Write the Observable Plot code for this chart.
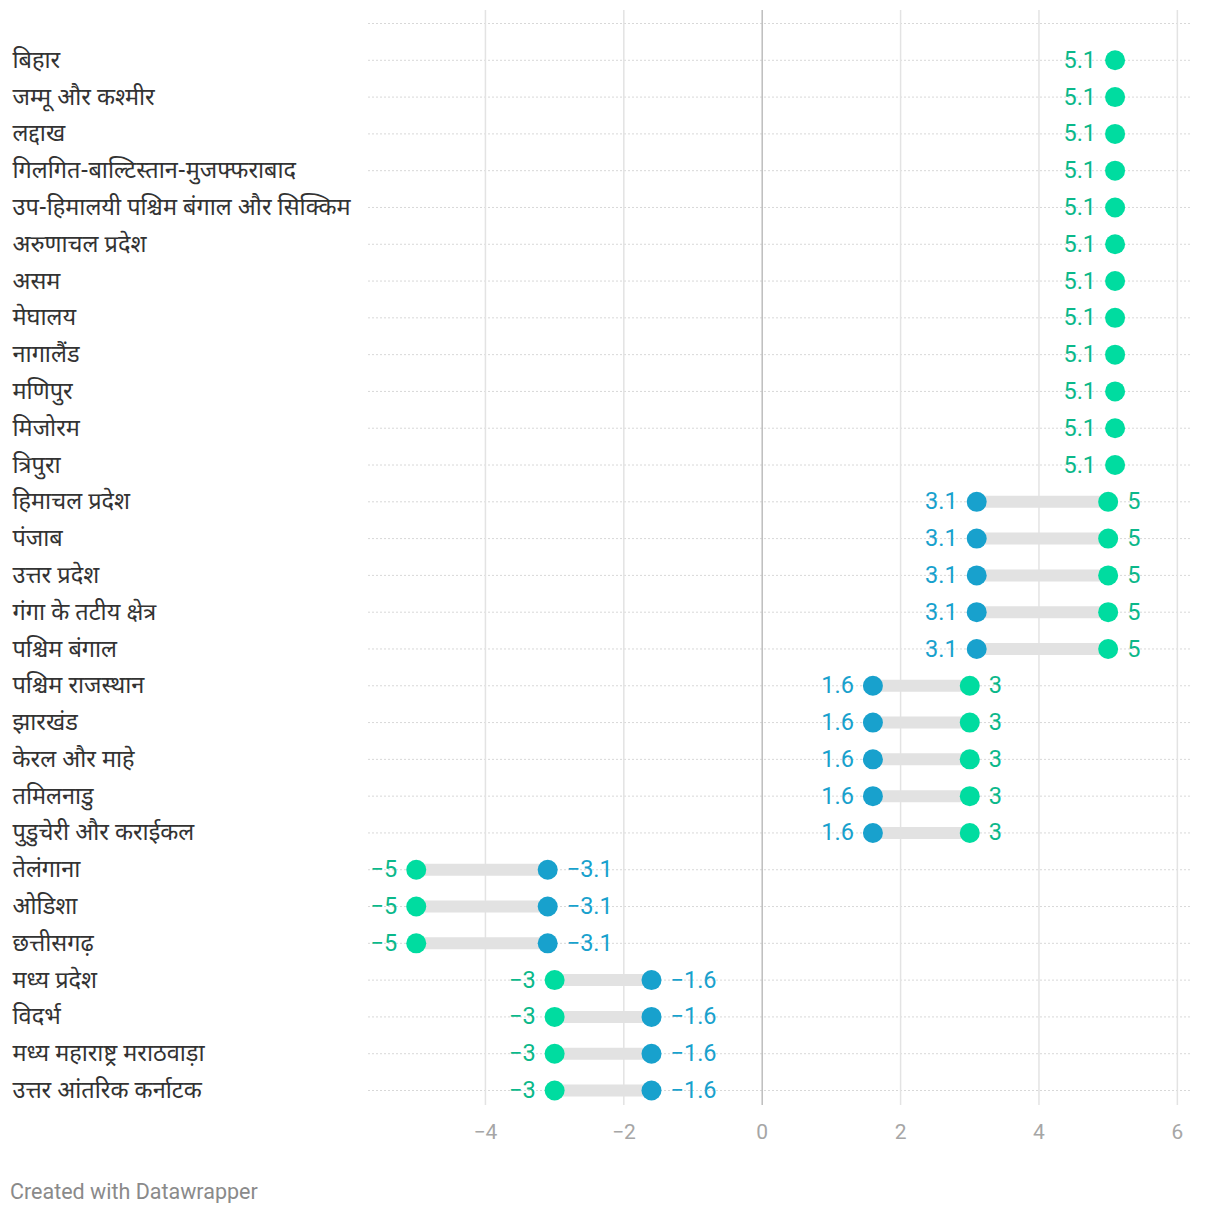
<!DOCTYPE html>
<html>
<head>
<meta charset="utf-8">
<script src="https://cdn.jsdelivr.net/npm/d3@7"></script>
<script src="https://cdn.jsdelivr.net/npm/@observablehq/plot@0.6"></script>
<style>
  body { margin: 0; background: #fff; font-family: Roboto, "Noto Sans", sans-serif; }
  #chart svg { display: block; }
  .credit { font-family: Roboto, sans-serif; font-size: 21.5px; color: #8a8a8a; padding: 21px 0 0 10px; line-height: 22px; }
</style>
</head>
<body>
<div id="chart"></div>
<div class="credit">Created with Datawrapper</div>
<script>
const regions = [
  "बिहार", "जम्मू और कश्मीर", "लद्दाख", "गिलगित-बाल्टिस्तान-मुजफ्फराबाद",
  "उप-हिमालयी पश्चिम बंगाल और सिक्किम", "अरुणाचल प्रदेश", "असम", "मेघालय",
  "नागालैंड", "मणिपुर", "मिजोरम", "त्रिपुरा",
  "हिमाचल प्रदेश", "पंजाब", "उत्तर प्रदेश", "गंगा के तटीय क्षेत्र", "पश्चिम बंगाल",
  "पश्चिम राजस्थान", "झारखंड", "केरल और माहे", "तमिलनाडु", "पुडुचेरी और कराईकल",
  "तेलंगाना", "ओडिशा", "छत्तीसगढ़",
  "मध्य प्रदेश", "विदर्भ", "मध्य महाराष्ट्र मराठवाड़ा", "उत्तर आंतरिक कर्नाटक"
];
const greenValues = [
  5.1, 5.1, 5.1, 5.1, 5.1, 5.1, 5.1, 5.1, 5.1, 5.1, 5.1, 5.1,
  5, 5, 5, 5, 5,
  3, 3, 3, 3, 3,
  -5, -5, -5,
  -3, -3, -3, -3
];
const blueValues = [
  null, null, null, null, null, null, null, null, null, null, null, null,
  3.1, 3.1, 3.1, 3.1, 3.1,
  1.6, 1.6, 1.6, 1.6, 1.6,
  -3.1, -3.1, -3.1,
  -1.6, -1.6, -1.6, -1.6
];
const xTicks = [-4, -2, 0, 2, 4, 6];

const GREEN = "#00dca0", GREEN_TEXT = "#0bb88a", BLUE = "#18a1cd";
const fmt = v => (v < 0 ? "\u2212" : "") + Math.abs(v);

const rows = regions.map((r, i) => ({ region: r, green: greenValues[i], blue: blueValues[i] }));
const pts = [];
rows.forEach(d => {
  const hasBlue = d.blue != null;
  const lo = hasBlue ? Math.min(d.green, d.blue) : d.green;
  pts.push({ region: d.region, v: d.green, series: "green", side: d.green === lo ? "left" : "right" });
  if (hasBlue) pts.push({ region: d.region, v: d.blue, series: "blue", side: d.blue === lo && d.blue !== d.green ? "left" : "right" });
});
const pairs = rows.filter(d => d.blue != null);

const yDomain = [" ", ...regions];
const font = "Roboto, sans-serif";

const chart = Plot.plot({
  width: 1220,
  height: 1160,
  marginLeft: 368,
  marginRight: 30,
  marginTop: 10,
  marginBottom: 55,
  style: { fontFamily: font, background: "#fff" },
  x: { domain: [-5.69, 6.19], ticks: xTicks, label: null },
  y: { type: "point", domain: yDomain, range: [23, 1090], padding: 0, round: false, label: null },
  marks: [
    Plot.ruleY(yDomain, { y: d => d, x1: -5.69, x2: 6.19, stroke: "#d8d8d8", strokeDasharray: "2,2", strokeWidth: 1 }),
    Plot.gridX(xTicks.filter(t => t !== 0), { stroke: "#e3e3e3", strokeOpacity: 1, strokeWidth: 1.5 }),
    Plot.ruleX([0], { stroke: "#bdbdbd", strokeWidth: 1.5 }),
    Plot.axisX(xTicks, { tickSize: 0, tickPadding: 19, fontSize: 21, fill: "#a6a6a6", tickFormat: fmt, fontFamily: font, label: null }),
    Plot.axisY({ tickSize: 0, tickPadding: 0, textAnchor: "start", dx: -356, fontSize: 23.5, fill: "#333", label: null,
      fontFamily: "'Noto Sans Devanagari', 'Noto Sans', sans-serif", tickFormat: d => d.trim() }),
    Plot.link(pairs, { x1: "green", x2: "blue", y1: "region", y2: "region", stroke: "#e2e2e2", strokeWidth: 12 }),
    Plot.dot(pts, { x: "v", y: "region", r: 10, fill: d => d.series === "green" ? GREEN : BLUE, stroke: "none" }),
    Plot.text(pts.filter(d => d.side === "left"), { x: "v", y: "region", text: d => fmt(d.v), textAnchor: "end", dx: -19,
      fill: d => d.series === "green" ? GREEN_TEXT : BLUE, fontSize: 23.5, fontFamily: font }),
    Plot.text(pts.filter(d => d.side === "right"), { x: "v", y: "region", text: d => fmt(d.v), textAnchor: "start", dx: 19,
      fill: d => d.series === "green" ? GREEN_TEXT : BLUE, fontSize: 23.5, fontFamily: font })
  ]
});
document.getElementById("chart").appendChild(chart);
</script>
</body>
</html>
